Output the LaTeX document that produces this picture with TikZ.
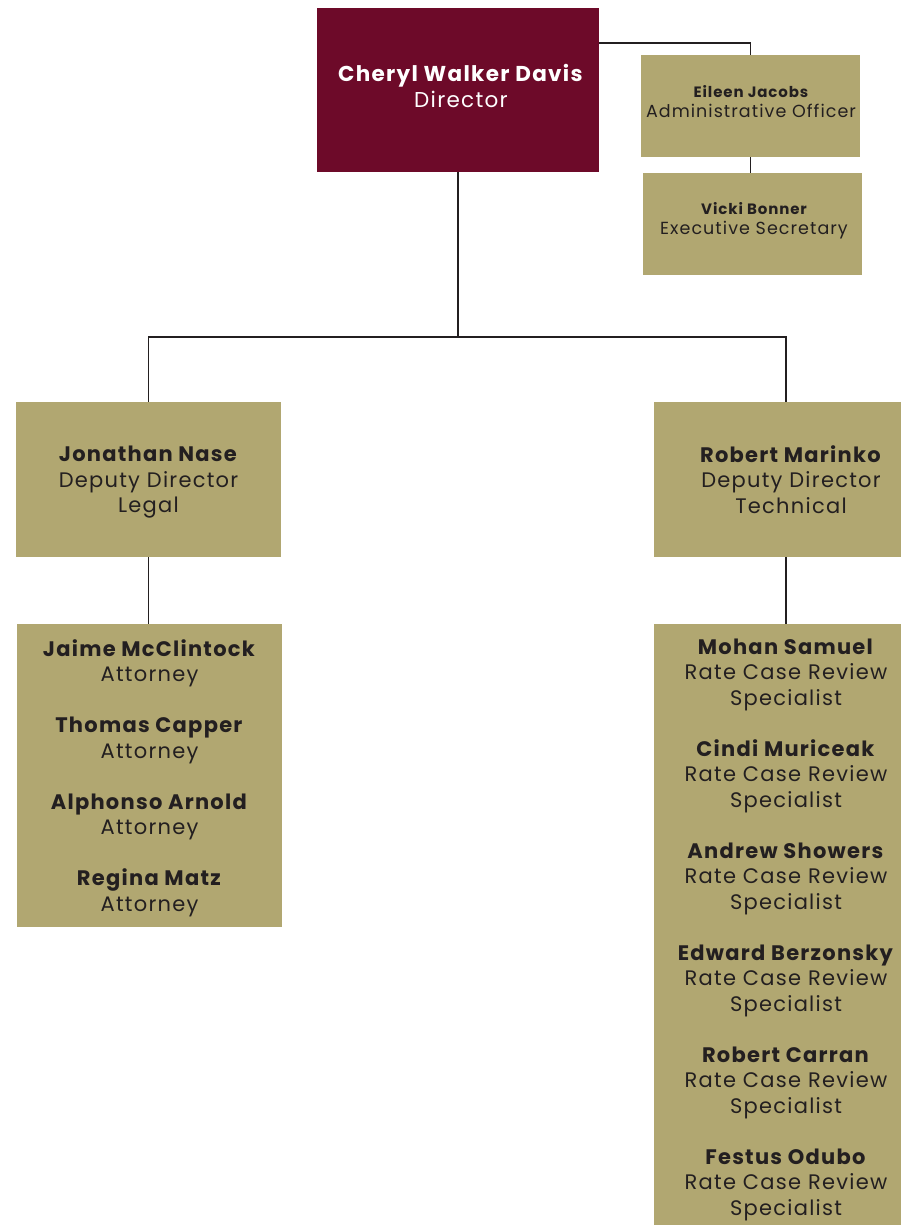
\documentclass[tikz,border=0pt]{standalone}
\usepackage{fontspec}
\setmainfont{Poppins}[LetterSpace=6]
\definecolor{maroon}{HTML}{6D0A29}
\definecolor{khaki}{HTML}{B1A771}
\definecolor{ink}{HTML}{231F20}

\begin{document}
\begin{tikzpicture}[x=1pt,y=-1pt,
  staff/.style={fill=khaki, text=ink, align=center, inner sep=0pt, text depth=0pt,
    font=\fontsize{21}{25.5}\selectfont},
  assist/.style={staff, minimum width=219, minimum height=102,
    font=\fontsize{17.5}{20}\selectfont},
  link/.style={draw=ink, line width=1.5pt}]
 \useasboundingbox (0,0) rectangle (901,1225);

 % Direktorin
 \node[fill=maroon, minimum width=282, minimum height=164] (director) at (458,90) {};
 \node[text=white, align=center, font=\fontsize{21.5}{26}\selectfont] (dirname) at (461,86)
   {\textbf{Cheryl Walker Davis}\\Director};

 % Assistenz
 \node[assist] (jacobs) at (750.5,106) {};
 \node[text=ink, align=center, inner sep=0pt, font=\fontsize{17.5}{20}\selectfont] (jacobstext) at (751,102)
   {{\bfseries\fontsize{15}{20}\selectfont Eileen Jacobs}\\Administrative Officer};
 \node[assist] (bonner) at (752.5,224) {};
 \node[text=ink, align=center, inner sep=0pt, font=\fontsize{17.5}{20}\selectfont] (bonnertext) at (754,221)
   {{\bfseries\fontsize{15}{20}\selectfont Vicki Bonner}\\Executive Secretary};

 % Stellvertreter
 \node[staff, minimum width=265, minimum height=155] (nase) at (148.5,479.5)
   {\textbf{Jonathan Nase}\\Deputy Director\\Legal};
 \node[staff, minimum width=274, minimum height=155] (marinko) at (791,479.5)
   {\textbf{Robert Marinko}\\Deputy Director\\Technical};

 % Mitarbeiter
 \node[staff, minimum width=265, minimum height=303] (legal) at (149.5,775.5)
   {\textbf{Jaime McClintock}\\Attorney\\[25.5pt]
    \textbf{Thomas Capper}\\Attorney\\[25.5pt]
    \textbf{Alphonso Arnold}\\Attorney\\[25.5pt]
    \textbf{Regina Matz}\\Attorney};
 \node[staff, minimum width=264, minimum height=606] (technical) at (786,927)
   {\textbf{Mohan Samuel}\\Rate Case Review\\Specialist\\[25.5pt]
    \textbf{Cindi Muriceak}\\Rate Case Review\\Specialist\\[25.5pt]
    \textbf{Andrew Showers}\\Rate Case Review\\Specialist\\[25.5pt]
    \textbf{Edward Berzonsky}\\Rate Case Review\\Specialist\\[25.5pt]
    \textbf{Robert Carran}\\Rate Case Review\\Specialist\\[25.5pt]
    \textbf{Festus Odubo}\\Rate Case Review\\Specialist};

 % Verbindungslinien
 \coordinate (dirR) at (director.east |- 0,43);
 \coordinate (bus) at (director.south |- 0,337);
 \coordinate (busR) at (technical.north |- bus);
 \draw[link] (dirR) -| (jacobs.north);
 \draw[link] (jacobs.south) -- (jacobs.south |- bonner.north);
 \draw[link] (director.south) -- (bus);
 \draw[link] (nase.north) |- (busR) -- (busR |- marinko.north);
 \draw[link] (nase.south) -- (nase.south |- legal.north);
 \draw[link] (busR |- marinko.south) -- (technical.north);
\end{tikzpicture}
\end{document}
